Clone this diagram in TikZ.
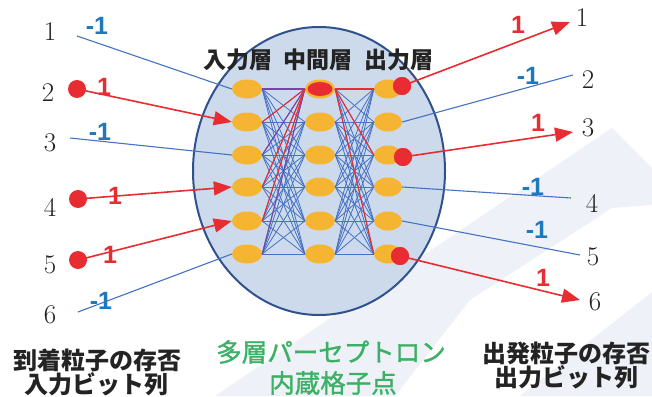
\documentclass[tikz,border=0pt]{standalone}
\usepackage{fontspec}
\newfontfamily\cjk{Noto Sans CJK JP}
\newfontfamily\cjkm[FakeBold=1.2]{Noto Sans CJK JP}
\newfontfamily\lsans{Liberation Sans}
\usetikzlibrary{shapes.geometric,arrows.meta}
\definecolor{ellfill}{RGB}{205,218,236}
\definecolor{elldraw}{RGB}{47,82,143}
\definecolor{orng}{RGB}{245,180,50}
\definecolor{rd}{RGB}{232,45,50}
\definecolor{lblue}{RGB}{70,114,196}
\definecolor{wblue}{RGB}{30,120,190}
\definecolor{purp}{RGB}{115,70,170}
\definecolor{grn}{RGB}{60,176,100}
\definecolor{dark}{RGB}{35,35,35}
\definecolor{wmark}{RGB}{238,242,248}
\tikzset{
  nd/.style={ellipse, fill=orng, minimum width=30pt, minimum height=19pt, inner sep=0pt},
  ndo/.style={nd, minimum width=28pt},
  rdot/.style={circle, fill=rd, minimum size=18pt, inner sep=0pt},
  netb/.style={lblue, line width=0.8pt},
  netr/.style={rd, line width=1.1pt},
  netp/.style={purp, line width=1.1pt},
  bline/.style={lblue, line width=1.1pt},
  rline/.style={rd, line width=1.6pt},
  rarrow/.style={rline, -{Triangle[length=18pt,width=14pt]}},
  num/.style={font=\fontsize{27}{29}\selectfont, text=dark, inner sep=0pt},
  wb/.style={font=\lsans\bfseries\fontsize{25}{27}\selectfont, text=wblue, inner sep=0pt},
  wr/.style={font=\lsans\bfseries\fontsize{25}{27}\selectfont, text=rd, inner sep=0pt},
  head/.style={font=\cjk\bfseries\fontsize{23}{25}\selectfont, text=dark, inner sep=0pt},
  foot/.style={font=\cjk\bfseries\fontsize{24}{24}\selectfont, text=dark, inner sep=0pt, align=center},
  gfoot/.style={font=\cjkm\fontsize{25.5}{31}\selectfont, text=grn, inner sep=0pt, align=center}
}
\begin{document}
\begin{tikzpicture}[x=1pt,y=-1pt]
\useasboundingbox (0,0) rectangle (652,396);
\fill[white] (0,0) rectangle (652,396);
% faint background watermark
\fill[wmark] (215,396) -- (612,128) -- (652,168) -- (652,205) -- (612,208) -- (470,300) -- (395,396) -- cycle;
\fill[wmark] (520,396) -- (652,292) -- (652,396) -- cycle;
% big ellipse
\node[ellipse, fill=ellfill, draw=elldraw, line width=2pt, minimum width=252pt, minimum height=288pt, inner sep=0pt] (big) at (319,171) {};
% header
\node[head] (h1) at (238,60) {入力層};
\node[head] (h2) at (318,60) {中間層};
\node[head] (h3) at (399,60) {出力層};
% layer nodes
\foreach \k/\y in {1/89,2/122,3/155,4/187,5/221,6/254}{
  \node[nd] (i\k) at (247,\y) {};
  \node[nd] (m\k) at (320,\y) {};
  \node[ndo] (o\k) at (388,\y) {};
}
\node[ellipse, fill=rd, minimum width=25pt, minimum height=14pt, inner sep=0pt] (m1r) at (m1) {};
% network connections
\foreach \a in {1,...,6}{
  \foreach \b in {1,...,6}{
    \draw[netb] (i\a.east) -- (m\b.west);
    \draw[netb] (m\a.east) -- (o\b.west);
  }
}
\draw[netp] (i1.east) -- (m1.west);
\draw[netp] (i3.east) -- (m1.west);
\draw[netp] (i6.east) -- (m1.west);
\draw[netr] (i2.east) -- (m1.west);
\draw[netr] (i4.east) -- (m1.west);
\draw[netr] (i5.east) -- (m1.west);
\draw[netr] (m1.east) -- (o1.west);
\draw[netr] (m1.east) -- (o3.west);
\draw[netr] (m1.east) -- (o6.west);
% left numbers
\node[num] (n1) at (50,32) {1};
\node[num] (n2) at (48,93) {2};
\node[num] (n3) at (50,143) {3};
\node[num] (n4) at (50,207) {4};
\node[num] (n5) at (50,265) {5};
\node[num] (n6) at (50,315) {6};
% left inputs
\coordinate (s1) at (77,36);
\coordinate (s3) at (70,138);
\coordinate (s6) at (78,312);
\draw[bline] (s1) -- (i1.west);
\draw[bline] (s3) -- (i3.west);
\draw[bline] (s6) -- (i6.west);
\node[rdot] (p2) at (77,89) {};
\node[rdot] (p4) at (78,199) {};
\node[rdot] (p5) at (78,260) {};
\draw[rarrow] (p2.center) -- (i2.west);
\draw[rarrow] (p4.center) -- (i4.west);
\draw[rarrow] (p5.center) -- (i5.west);
\node[wb] (wl1) at (97,26) {-1};
\node[wr] (wl2) at (104,87) {1};
\node[wb] (wl3) at (100,132) {-1};
\node[wr] (wl4) at (115,196) {1};
\node[wr] (wl5) at (110,255) {1};
\node[wb] (wl6) at (101,301) {-1};
% right outputs
\node[rdot] (d1) at (402,86) {};
\node[rdot] (d3) at (403,157) {};
\node[rdot] (d6) at (400,256) {};
\coordinate (t1) at (570,22);
\coordinate (t2) at (573,75);
\coordinate (t3) at (573,132);
\coordinate (t4) at (571,198);
\coordinate (t5) at (580,255);
\coordinate (t6) at (580,300);
\draw[rarrow] (d1.center) -- (t1);
\draw[bline] (o2.east) -- (t2);
\draw[rarrow] (d3.center) -- (t3);
\draw[bline] (o4.east) -- (t4);
\draw[bline] (o5.east) -- (t5);
\draw[rarrow] (d6.center) -- (t6);
\node[rdot] (d1b) at (d1) {};
\node[rdot] (d3b) at (d3) {};
\node[rdot] (d6b) at (d6) {};
\node[wr] (wr1) at (518,25) {1};
\node[wb] (wr2) at (528,76) {-1};
\node[wr] (wr3) at (538,123) {1};
\node[wb] (wr4) at (533,187) {-1};
\node[wb] (wr5) at (537,230) {-1};
\node[wr] (wr6) at (543,278) {1};
\node[num] (r1) at (582,18) {1};
\node[num] (r2) at (588,80) {2};
\node[num] (r3) at (588,128) {3};
\node[num] (r4) at (592,203) {4};
\node[num] (r5) at (593,257) {5};
\node[num] (r6) at (595,302) {6};
% footers
\node[foot] (fl1) at (97,360) {到着粒子の存否};
\node[foot] (fl2) at (96,384) {入力ビット列};
\node[gfoot] (fg1) at (331,352) {多層パーセプトロン};
\node[gfoot] (fg2) at (333,383) {内蔵格子点};
\node[foot] (fr1) at (566,353) {出発粒子の存否};
\node[foot] (fr2) at (566,377) {出力ビット列};
\end{tikzpicture}
\end{document}
